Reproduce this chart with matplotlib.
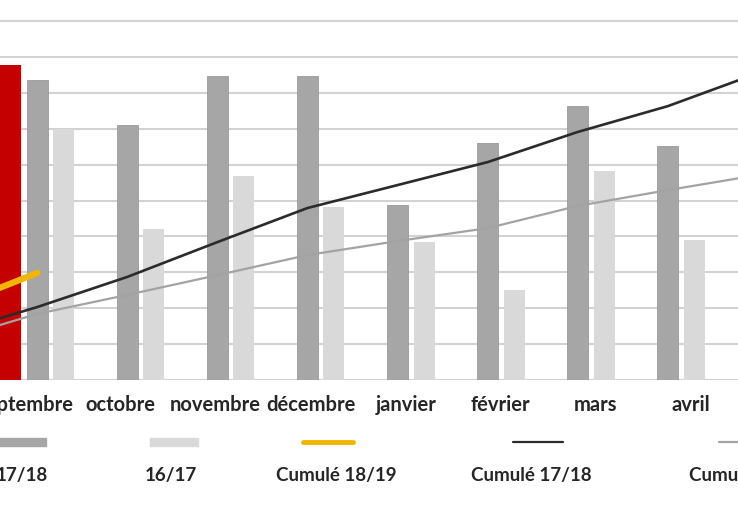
import matplotlib
matplotlib.use("Agg")
import matplotlib.pyplot as plt
import numpy as np
from matplotlib.patches import Rectangle
from matplotlib.lines import Line2D

# ---- data (units = gridline steps) ----
months = ["août", "septembre", "octobre", "novembre", "décembre",
          "janvier", "février", "mars", "avril", "mai"]
nan = np.nan
s1819 = [nan, 8.77, nan, nan, nan, nan, nan, nan, nan, nan]
s1718 = [nan, 8.36, 7.10, 8.47, 8.47, 4.87, 6.60, 7.63, 6.52, nan]
s1617 = [nan, 6.99, 4.21, 5.68, 4.82, 3.84, 2.51, 5.82, 3.90, nan]
cum1819 = [1.98, 2.98, nan, nan, nan, nan, nan, nan, nan, nan]
cum1718 = [1.28, 2.03, 2.87, 3.84, 4.79, 5.43, 6.07, 6.91, 7.63, 8.55]
cum1617 = [1.09, 1.84, 2.37, 2.92, 3.48, 3.87, 4.23, 4.85, 5.29, 5.71]
legend_labels = ["17/18", "16/17", "Cumulé 18/19", "Cumulé 17/18", "Cumulé 16/17"]

RED = "#c40000"
DARK = "#a6a6a6"
LIGHT = "#d9d9d9"
YEL = "#f2b500"
BLK = "#2b2b2b"
GRY = "#a3a3a3"
GRID = "#d2d2d2"
FONT = ["Lato", "DejaVu Sans"]

W, H = 738, 507
fig = plt.figure(figsize=(W / 100, H / 100), dpi=100)

# axes deliberately larger than the figure (the reference is a crop)
left_px, right_px = -98.2, 803.2
base_px, unit = 380.0, 35.9
group_px = (right_px - left_px) / len(months)
ymax = 11.5
ax = fig.add_axes([left_px / W, (H - base_px) / H,
                   (right_px - left_px) / W, ymax * unit / H])
ax.set_xlim(-0.5, len(months) - 0.5)
ax.set_ylim(0, ymax)

x = np.arange(len(months))
bw, off = 0.233, 0.294
ax.bar(x - off, s1819, bw, color=RED, zorder=2)
ax.bar(x, s1718, bw, color=DARK, edgecolor="#9a9a9a", linewidth=0.6, zorder=2)
ax.bar(x + off, s1617, bw, color=LIGHT, zorder=2)

ax.plot(x, cum1617, color=GRY, lw=1.6, zorder=3)
ax.plot(x, cum1718, color=BLK, lw=1.9, zorder=3)
ax.plot(x, cum1819, color=YEL, lw=4.5, solid_capstyle="round", zorder=4)

ax.set_yticks(np.arange(0, 12))
ax.yaxis.grid(True, color=GRID, lw=1.5)
ax.set_axisbelow(True)
ax.tick_params(axis="y", left=False, labelleft=False)

# month labels in the reference are spaced slightly wider than the bar groups
label_step = 95.0 / group_px
label_pos = 2 + (121 - 127.5) / group_px + (x - 2) * label_step
ax.set_xticks(label_pos)
ax.set_xticklabels(months, fontsize=14.5, fontweight="bold", color="#262626",
                   family=FONT)
ax.tick_params(axis="x", length=0, pad=11)
for s in ax.spines.values():
    s.set_visible(False)

# ---- legend (symbol above label), drawn in figure pixels ----
def fx(px):
    return px / W

def fy(py):
    return (H - py) / H

sym_y, lab_y = 442, 476
entries = [
    ("bar", DARK, 22, 22),
    ("bar", LIGHT, 174, 171),
    ("line", YEL, 328, 336),
    ("line", BLK, 538, 531),
    ("line", GRY, 744, 749),
]
for (kind, col, sx, lx), lab in zip(entries, legend_labels):
    if kind == "bar":
        fig.add_artist(Rectangle((fx(sx - 24), fy(sym_y + 4)), 48 / W, 8 / H,
                                 transform=fig.transFigure, color=col))
    else:
        lw = 3.5 if col == YEL else 1.6
        fig.add_artist(Line2D([fx(sx - 25), fx(sx + 25)], [fy(sym_y), fy(sym_y)],
                              transform=fig.transFigure, color=col, lw=lw,
                              solid_capstyle="round"))
    fig.text(fx(lx), fy(lab_y), lab, ha="center", va="center", fontsize=13.5,
             fontweight="bold", color="#262626", family=FONT)

fig.savefig("out.png", dpi=100)
